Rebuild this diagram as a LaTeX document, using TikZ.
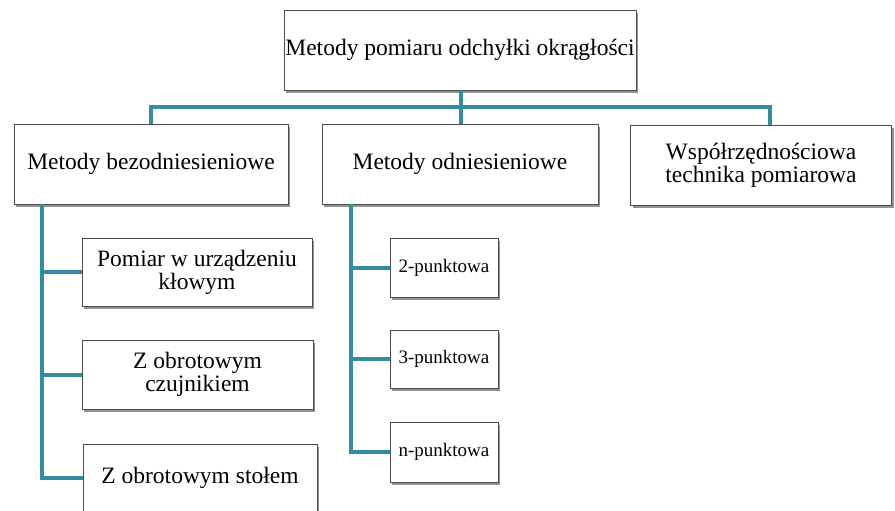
\documentclass[tikz,border=0pt]{standalone}
\usepackage{fontspec}
\setmainfont{Liberation Serif}
\usetikzlibrary{shadows}
\definecolor{linkcol}{RGB}{52,140,163}
\begin{document}
\begin{tikzpicture}[x=1pt,y=-1pt,
  box/.style={draw=black!70, line width=0.8pt, fill=white, inner sep=0pt, align=center,
    drop shadow={shadow xshift=2pt, shadow yshift=-3pt, fill=black!60, opacity=0.7}},
  bigtxt/.style={font=\fontsize{23.5}{23}\selectfont},
  smalltxt/.style={font=\fontsize{19}{20}\selectfont},
  link/.style={draw=linkcol, line width=4pt, line join=miter}]
\useasboundingbox (0,0) rectangle (895,511);
\fill[white] (0,0) rectangle (895,511);

\node[box,bigtxt,minimum width=352pt,minimum height=80pt] (top) at (460,50) {Metody pomiaru odchyłki okrągłości};
\node[box,bigtxt,minimum width=274pt,minimum height=80pt] (a) at (151,164) {Metody bezodniesieniowe};
\node[box,bigtxt,minimum width=276pt,minimum height=80pt] (b) at (460,164) {Metody odniesieniowe};
\node[box,bigtxt,minimum width=261pt,minimum height=80pt] (c) at (761,165) {Współrzędnościowa\\technika pomiarowa};

\node[box,bigtxt,minimum width=230pt,minimum height=68pt] (a1) at (197,272) {Pomiar w urządzeniu\\kłowym};
\node[box,bigtxt,minimum width=231pt,minimum height=69pt] (a2) at (197.5,374.5) {Z obrotowym\\czujnikiem};
\node[box,bigtxt,minimum width=234pt,minimum height=68pt] (a3) at (200,478) {Z obrotowym stołem};

\node[box,smalltxt,minimum width=108pt,minimum height=59pt] (b1) at (444,267.5) {2-punktowa};
\node[box,smalltxt,minimum width=108pt,minimum height=58pt] (b2) at (444,359) {3-punktowa};
\node[box,smalltxt,minimum width=108pt,minimum height=60pt] (b3) at (444,452) {n-punktowa};

\coordinate (busmid) at (461,107);
\coordinate (busl) at (151,107);
\coordinate (busr) at (770,107);
\coordinate (spa) at (42,204);
\coordinate (spb) at (351,204);

\draw[link] (top.south -| busmid) -- (busmid);
\draw[link] (busl |- a.north) -- (busl) -- (busr) -- (busr |- c.north);
\draw[link] (busmid) -- (busmid |- b.north);

\draw[link] (spa) -- (spa |- a3.west) -- (a3.west);
\draw[link] (spa |- a1.west) -- (a1.west);
\draw[link] (spa |- a2.west) -- (a2.west);

\draw[link] (spb) -- (spb |- b3.west) -- (b3.west);
\draw[link] (spb |- b1.west) -- (b1.west);
\draw[link] (spb |- b2.west) -- (b2.west);
\end{tikzpicture}
\end{document}
